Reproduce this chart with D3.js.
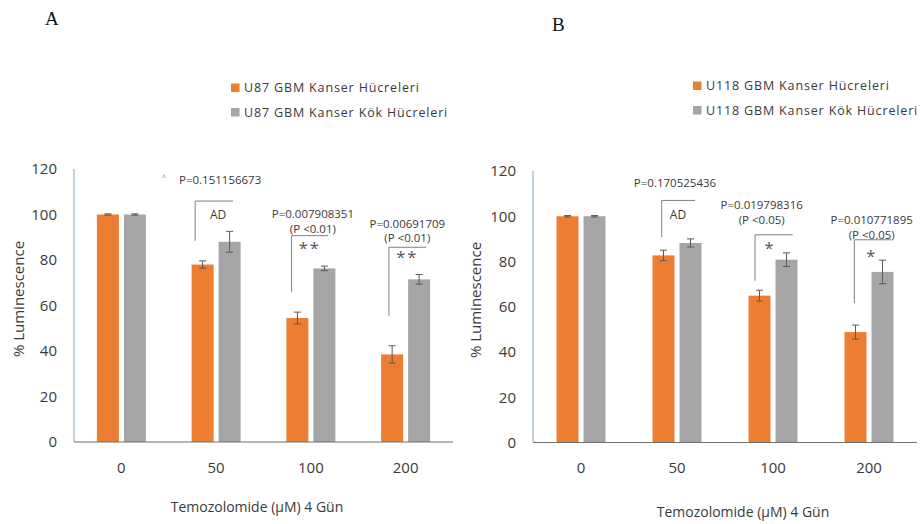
<!doctype html>
<html>
<head>
<meta charset="utf-8">
<script src="https://cdn.jsdelivr.net/npm/d3@7"></script>
<style>
  body { margin: 0; background: #fff; }
  text { font-family: "Open Sans", sans-serif; fill: #3a3a3a; }
</style>
</head>
<body>
<div id="chart"></div>
<script>
// doses on the x axis
var doses = ["0", "50", "100", "200"];
var yTicks = [0, 20, 40, 60, 80, 100, 120];

// panel A: U87
var u87Cancer = [100, 78, 54.5, 38.5];
var u87CancerErr = [0.3, 1.6, 2.6, 3.8];
var u87Stem = [100, 88, 76.3, 71.5];
var u87StemErr = [0.3, 4.6, 1, 2.1];

// panel B: U118
var u118Cancer = [100, 82.7, 64.9, 48.8];
var u118CancerErr = [0.3, 2.3, 2.4, 3.1];
var u118Stem = [100, 88.2, 80.8, 75.4];
var u118StemErr = [0.3, 1.8, 3, 5.2];

var orange = "#ed7d31", grey = "#a5a5a5";

var svg = d3.select("#chart").append("svg")
  .attr("width", 923).attr("height", 524);

function drawPanel(p) {
  var g = svg.append("g");
  var x = d3.scaleBand().domain(doses).range([p.left, p.right]);
  var y = d3.scaleLinear().domain([0, 120]).range([p.zero, p.top]);
  var bw = 22, gap = 5;

  // panel letter
  g.append("text").attr("x", p.letterX).attr("y", p.letterY)
    .style("font-family", "'Liberation Serif', serif").style("font-size", "19px")
    .style("fill", "#111").text(p.letter);

  // legend
  var leg = g.selectAll(".leg").data(p.legend).enter().append("g")
    .attr("transform", function(d, i) { return "translate(" + p.legX + "," + (p.legY + i * 24.5) + ")"; });
  leg.append("rect").attr("x", 0).attr("y", -4.5).attr("width", 8.5).attr("height", 8.5)
    .attr("fill", function(d, i) { return i == 0 ? orange : grey; });
  leg.append("text").attr("x", 13).attr("dy", "0.35em")
    .style("font-size", "12.5px").style("letter-spacing", "0.85px")
    .text(function(d) { return d; });

  // y axis line + tick labels
  g.append("line").attr("x1", p.left).attr("x2", p.left).attr("y1", y(120)).attr("y2", y(0))
    .attr("stroke", "#a8c5e2").attr("stroke-width", 1.5);
  g.selectAll(".yt").data(yTicks).enter().append("text")
    .attr("x", p.left - 17).attr("y", function(d) { return y(d); }).attr("dy", "0.36em")
    .attr("text-anchor", "end").style("font-size", "15px").text(function(d) { return d; });

  // bars
  var series = [
    { vals: p.cancer, err: p.cancerErr, color: orange, off: -(bw + gap / 2) },
    { vals: p.stem, err: p.stemErr, color: grey, off: gap / 2 }
  ];
  series.forEach(function(s) {
    var rows = doses.map(function(d, i) { return { dose: d, v: s.vals[i], e: s.err[i] }; });
    g.selectAll(null).data(rows).enter().append("rect")
      .attr("x", function(d) { return x(d.dose) + x.bandwidth() / 2 + s.off; })
      .attr("y", function(d) { return y(d.v); })
      .attr("width", bw)
      .attr("height", function(d) { return y(0) - y(d.v); })
      .attr("fill", s.color);
    var eb = g.selectAll(null).data(rows).enter().append("g")
      .attr("stroke", "#595959").attr("stroke-width", 1);
    var cx = function(d) { return x(d.dose) + x.bandwidth() / 2 + s.off + bw / 2; };
    eb.append("line").attr("x1", cx).attr("x2", cx)
      .attr("y1", function(d) { return y(d.v + d.e); }).attr("y2", function(d) { return y(d.v - d.e); });
    eb.append("line").attr("x1", function(d) { return cx(d) - 3.5; }).attr("x2", function(d) { return cx(d) + 3.5; })
      .attr("y1", function(d) { return y(d.v + d.e); }).attr("y2", function(d) { return y(d.v + d.e); });
    eb.append("line").attr("x1", function(d) { return cx(d) - 3.5; }).attr("x2", function(d) { return cx(d) + 3.5; })
      .attr("y1", function(d) { return y(d.v - d.e); }).attr("y2", function(d) { return y(d.v - d.e); });
  });

  // x axis line
  g.append("line").attr("x1", p.left).attr("x2", p.right).attr("y1", y(0)).attr("y2", y(0))
    .attr("stroke", "#6f6f6f").attr("stroke-width", 1.2);
  g.selectAll(".xt").data(doses).enter().append("text")
    .attr("x", function(d) { return x(d) + x.bandwidth() / 2; }).attr("y", p.tickY)
    .attr("dy", "0.36em").attr("text-anchor", "middle").style("font-size", "15px")
    .text(function(d) { return d; });

  // axis titles
  g.append("text").attr("x", p.titleX).attr("y", p.titleY).attr("dy", "0.36em")
    .attr("text-anchor", "middle").style("font-size", "14px").text("Temozolomide (\u00b5M) 4 G\u00fcn");
  g.append("text").attr("transform", "translate(" + p.yTitleX + "," + p.yTitleY + ") rotate(-90)")
    .attr("dy", "0.36em").attr("text-anchor", "middle").style("font-size", "15px").text("% Luminescence");

  // significance annotations
  p.notes.forEach(function(n) {
    var c = x(n.dose) + x.bandwidth() / 2;
    n.lines.forEach(function(t, i) {
      g.append("text").attr("x", c + n.tx).attr("y", y(n.ty) + i * 14.5).attr("dy", "0.36em")
        .attr("text-anchor", "middle").style("font-size", "11.5px").text(t);
    });
    g.append("path")
      .attr("d", "M" + (c + n.bl) + "," + y(n.bBot) + "V" + y(n.bTop) + "H" + (c + n.br))
      .attr("fill", "none").attr("stroke", "#7f7f7f").attr("stroke-width", 1);
    var isAD = n.mark == "AD";
    g.append("text").attr("x", c + n.mx).attr("y", y(n.my)).attr("dy", isAD ? "0.36em" : "0.62em")
      .attr("text-anchor", "middle")
      .style("font-size", isAD ? "12px" : "16.5px")
      .style("fill", isAD ? "#3a3a3a" : "#555")
      .style("letter-spacing", isAD ? "0" : "2px")
      .text(n.mark);
    if (n.caret) {
      g.append("text").attr("x", c + n.tx - 56).attr("y", y(n.ty) - 3).attr("dy", "0.36em")
        .attr("text-anchor", "middle").style("font-size", "8px").style("fill", "#888").text("^");
    }
  });
}

drawPanel({
  letter: "A", letterX: 45, letterY: 25,
  left: 74, right: 453, top: 169, zero: 442,
  legX: 231, legY: 88,
  legend: ["U87 GBM Kanser H\u00fccreleri", "U87 GBM Kanser K\u00f6k H\u00fccreleri"],
  cancer: u87Cancer, cancerErr: u87CancerErr, stem: u87Stem, stemErr: u87StemErr,
  tickY: 468, titleX: 257, titleY: 507, yTitleX: 19, yTitleY: 299,
  notes: [
    { dose: "50", lines: ["P=0.151156673"], tx: 4, ty: 115.2, bl: -21, br: 17, bTop: 105.9, bBot: 88.4, mark: "AD", mx: 2, my: 99.8, caret: true },
    { dose: "100", lines: ["P=0.007908351", "(P <0.01)"], tx: 2, ty: 100.2, bl: -19.3, br: 17.3, bTop: 90.7, bBot: 66, mark: "**", mx: -1, my: 87.3 },
    { dose: "200", lines: ["P=0.00691709", "(P <0.01)"], tx: 1.7, ty: 96, bl: -16.7, br: 20.7, bTop: 85.6, bBot: 55.5, mark: "**", mx: 1.7, my: 83.2 }
  ]
});

drawPanel({
  letter: "B", letterX: 552, letterY: 31,
  left: 533, right: 917, top: 171, zero: 442.5,
  legX: 693, legY: 86,
  legend: ["U118 GBM Kanser H\u00fccreleri", "U118 GBM Kanser K\u00f6k H\u00fccreleri"],
  cancer: u118Cancer, cancerErr: u118CancerErr, stem: u118Stem, stemErr: u118StemErr,
  tickY: 468, titleX: 743, titleY: 512, yTitleX: 476, yTitleY: 300,
  notes: [
    { dose: "50", lines: ["P=0.170525436"], tx: -2, ty: 114.9, bl: -15.3, br: 18, bTop: 107, bBot: 90.8, mark: "AD", mx: 1, my: 100.7 },
    { dose: "100", lines: ["P=0.019798316", "(P <0.05)"], tx: -11.3, ty: 105, bl: -18, br: 19.7, bTop: 91.8, bBot: 71.5, mark: "*", mx: -3, my: 88 },
    { dose: "200", lines: ["P=0.010771895", "(P <0.05)"], tx: 2.7, ty: 98.4, bl: -14.7, br: 22, bTop: 89.6, bBot: 61.6, mark: "*", mx: 2.7, my: 84.5 }
  ]
});
</script>
</body>
</html>
